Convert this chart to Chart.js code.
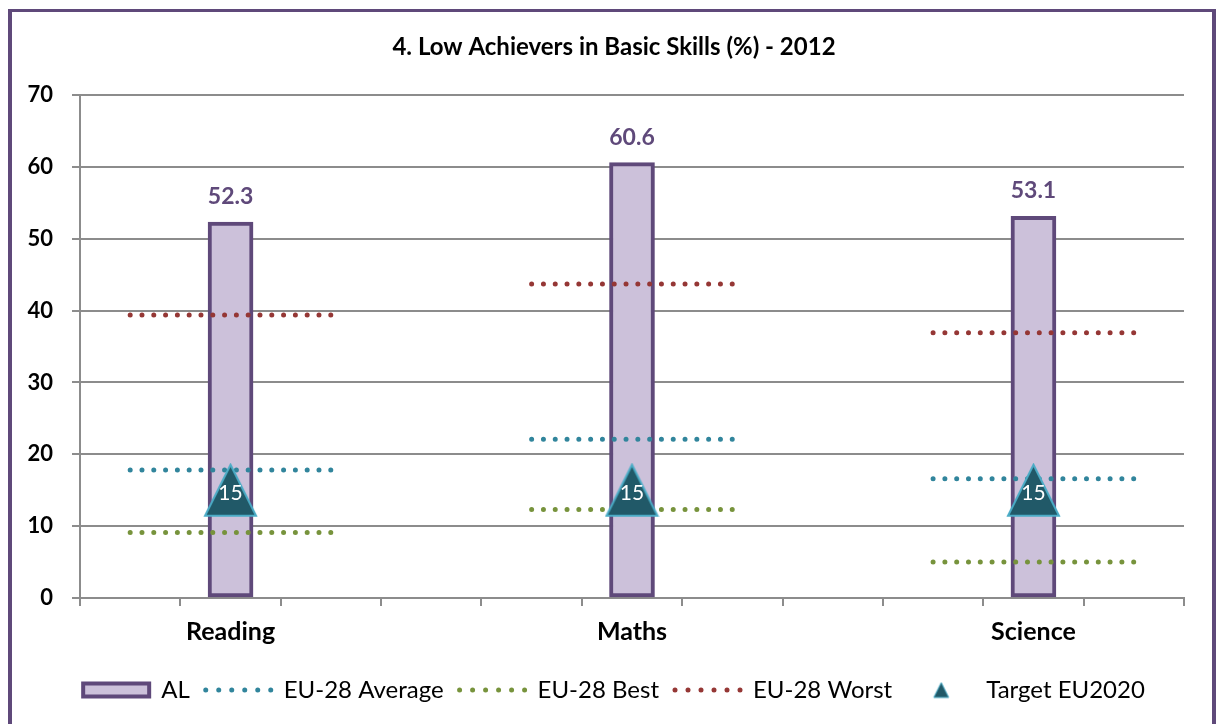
<!DOCTYPE html>
<html>
<head>
<meta charset="utf-8">
<title>Low Achievers in Basic Skills (%) - 2012</title>
<script src="https://cdn.jsdelivr.net/npm/chart.js@4.4.0/dist/chart.umd.min.js"></script>
<style>
    body { margin: 0; background: #fff; }
    #moldura { position: absolute; left: 8px; top: 9px; width: 1200px; height: 730px; border: 4px solid #5F497A; border-top-width: 3px; border-bottom: none; }
    #grafico { position: absolute; left: 0; top: 0; }
</style>
</head>
<body>
<div id="moldura"></div>
<canvas id="grafico" width="1216" height="724"></canvas>
<script>
/*
* Dados
*/
const categorias = ['Reading', 'Maths', 'Science']
const valoresAL = [52.3, 60.6, 53.1]
const mediaUE = [17.8, 22.1, 16.6]
const melhorUE = [9.1, 12.3, 5.0]
const piorUE = [39.4, 43.7, 36.9]
const metaUE2020 = [15, 15, 15]
const ticksY = [0, 10, 20, 30, 40, 50, 60, 70]

// eixo x de 0 a 11 (como no Excel), cada categoria ocupa 4 divisoes
const centros = categorias.map((c, i) => 1.5 + 4 * i)

const pontosBarra = (valores) => valores.map((v, i) => ({ x: centros[i], y: v }))

// linha pontilhada de centro-1 ate centro+1, com quebra entre categorias
const pontosLinha = (valores) => {
    const pts = []
    valores.forEach((v, i) => {
        pts.push({ x: centros[i] - 1, y: v })
        pts.push({ x: centros[i] + 1, y: v })
        pts.push({ x: centros[i] + 2, y: null })
    })
    return pts
}

const fazerTriangulo = (lado, borda) => {
    const c = document.createElement('canvas')
    c.width = lado + 4
    c.height = lado + 4
    const g = c.getContext('2d')
    g.beginPath()
    g.moveTo(c.width / 2, 2)
    g.lineTo(c.width - 2, c.height - 2)
    g.lineTo(2, c.height - 2)
    g.closePath()
    g.fillStyle = '#215968'
    g.fill()
    g.lineWidth = borda
    g.strokeStyle = '#4BACC6'
    g.stroke()
    return c
}
const trianguloGrande = fazerTriangulo(51, 2)
const trianguloLegenda = fazerTriangulo(15, 1)

const fonte = "Lato, 'Liberation Sans', sans-serif"
Chart.defaults.font.family = fonte
Chart.defaults.color = '#000'

const linhaPontilhada = (rotulo, valores, cor, ordem) => ({
    type: 'line',
    label: rotulo,
    data: pontosLinha(valores),
    borderColor: cor,
    backgroundColor: cor,
    borderWidth: 5,
    borderDash: [0, 11.8],
    borderCapStyle: 'round',
    pointRadius: 0,
    pointHoverRadius: 0,
    spanGaps: false,
    fill: false,
    order: ordem
})

/*
* Rotulos dos valores (barras e triangulos)
*/
const rotulos = {
    id: 'rotulos',
    afterDatasetsDraw(chart) {
        const ctx = chart.ctx
        const metaBarra = chart.getDatasetMeta(0)
        ctx.save()
        ctx.textAlign = 'center'
        ctx.font = 'bold 23px ' + fonte
        ctx.fillStyle = '#5F497A'
        ctx.textBaseline = 'alphabetic'
        metaBarra.data.forEach((el, j) => {
            ctx.fillText(valoresAL[j].toFixed(1), el.x, el.y - 18)
        })
        const metaTri = chart.getDatasetMeta(4)
        ctx.font = '21px ' + fonte
        ctx.fillStyle = '#fff'
        ctx.textBaseline = 'middle'
        metaTri.data.forEach((el, j) => {
            ctx.fillText(String(metaUE2020[j]), el.x, el.y + 3)
        })
        ctx.restore()
    }
}

const ctx = document.getElementById('grafico').getContext('2d')

const meuGrafico = new Chart(ctx, {
    data: {
        datasets: [
            {
                type: 'bar',
                label: 'AL',
                data: pontosBarra(valoresAL),
                backgroundColor: '#CCC1DA',
                borderColor: '#5F497A',
                borderWidth: 4,
                borderSkipped: false,
                barThickness: 45,
                pointStyle: 'rect',
                order: 5
            },
            linhaPontilhada('EU-28 Average', mediaUE, '#31859C', 3),
            linhaPontilhada('EU-28 Best', melhorUE, '#77933C', 3),
            linhaPontilhada('EU-28 Worst', piorUE, '#953735', 3),
            {
                type: 'line',
                label: 'Target EU2020',
                data: pontosBarra(metaUE2020),
                showLine: false,
                pointStyle: trianguloGrande,
                pointRadius: 28,
                pointHoverRadius: 28,
                backgroundColor: '#215968',
                borderColor: '#4BACC6',
                order: 1
            }
        ]
    },
    options: {
        responsive: false,
        animation: false,
        events: [],
        layout: {
            padding: { left: 12, right: 0, top: 0, bottom: 12 }
        },
        scales: {
            x: {
                type: 'linear',
                position: 'bottom',
                min: 0,
                max: 11,
                offset: false,
                weight: 0,
                ticks: { display: false, stepSize: 1 },
                grid: { offset: false, drawOnChartArea: false, drawTicks: true, tickLength: 8, color: '#8C8C8C', lineWidth: 2 },
                border: { display: true, color: '#8C8C8C', width: 2 },
                afterFit: (escala) => { escala.height = 8 }
            },
            xc: {
                type: 'linear',
                position: 'bottom',
                min: 0,
                max: 11,
                offset: false,
                weight: 1,
                grid: { display: false, drawTicks: false },
                border: { display: false },
                afterBuildTicks: (escala) => { escala.ticks = centros.map(v => ({ value: v })) },
                ticks: {
                    padding: 11,
                    autoSkip: false,
                    maxRotation: 0,
                    font: { size: 25, weight: 'bold' },
                    callback: (valor, indice) => categorias[indice]
                },
                afterFit: (escala) => { escala.height = 56 }
            },
            y: {
                min: 0,
                max: 70,
                afterBuildTicks: (escala) => { escala.ticks = ticksY.map(v => ({ value: v })) },
                ticks: {
                    padding: 19,
                    font: { size: 22, weight: 'bold' }
                },
                grid: { color: '#8C8C8C', lineWidth: 2, tickLength: 8 },
                border: { display: true, color: '#8C8C8C', width: 2 },
                afterFit: (escala) => { escala.width = 68 }
            },
            // eixo vazio a direita so para reservar a margem
            ydir: {
                type: 'linear',
                position: 'right',
                min: 0,
                max: 70,
                grid: { display: false, drawTicks: false },
                border: { display: false },
                ticks: { display: false },
                afterFit: (escala) => { escala.width = 32 }
            }
        },
        plugins: {
            title: {
                display: true,
                text: '4. Low Achievers in Basic Skills (%) - 2012',
                font: { size: 24, weight: 'bold' },
                color: '#000',
                padding: { top: 33, bottom: 33.2 }
            },
            tooltip: { enabled: false },
            legend: {
                display: true,
                position: 'bottom',
                labels: {
                    usePointStyle: true,
                    pointStyleWidth: 66,
                    boxHeight: 13,
                    padding: 16,
                    font: { size: 24 },
                    color: '#000',
                    sort: (a, b) => a.datasetIndex - b.datasetIndex,
                    generateLabels: function (chart) {
                        const itens = Chart.defaults.plugins.legend.labels.generateLabels(chart)
                        itens.forEach((item) => {
                            const ds = chart.data.datasets[item.datasetIndex]
                            if (ds.type === 'bar') {
                                item.pointStyle = 'rect'
                                item.lineWidth = 4
                                item.lineDash = []
                            } else if (ds.showLine === false) {
                                item.pointStyle = trianguloLegenda
                            } else {
                                item.pointStyle = 'line'
                                item.lineWidth = 5
                                item.lineDash = [0, 13]
                                item.lineCap = 'round'
                            }
                        })
                        return itens
                    }
                }
            }
        }
    },
    plugins: [rotulos]
})
</script>
</body>
</html>
